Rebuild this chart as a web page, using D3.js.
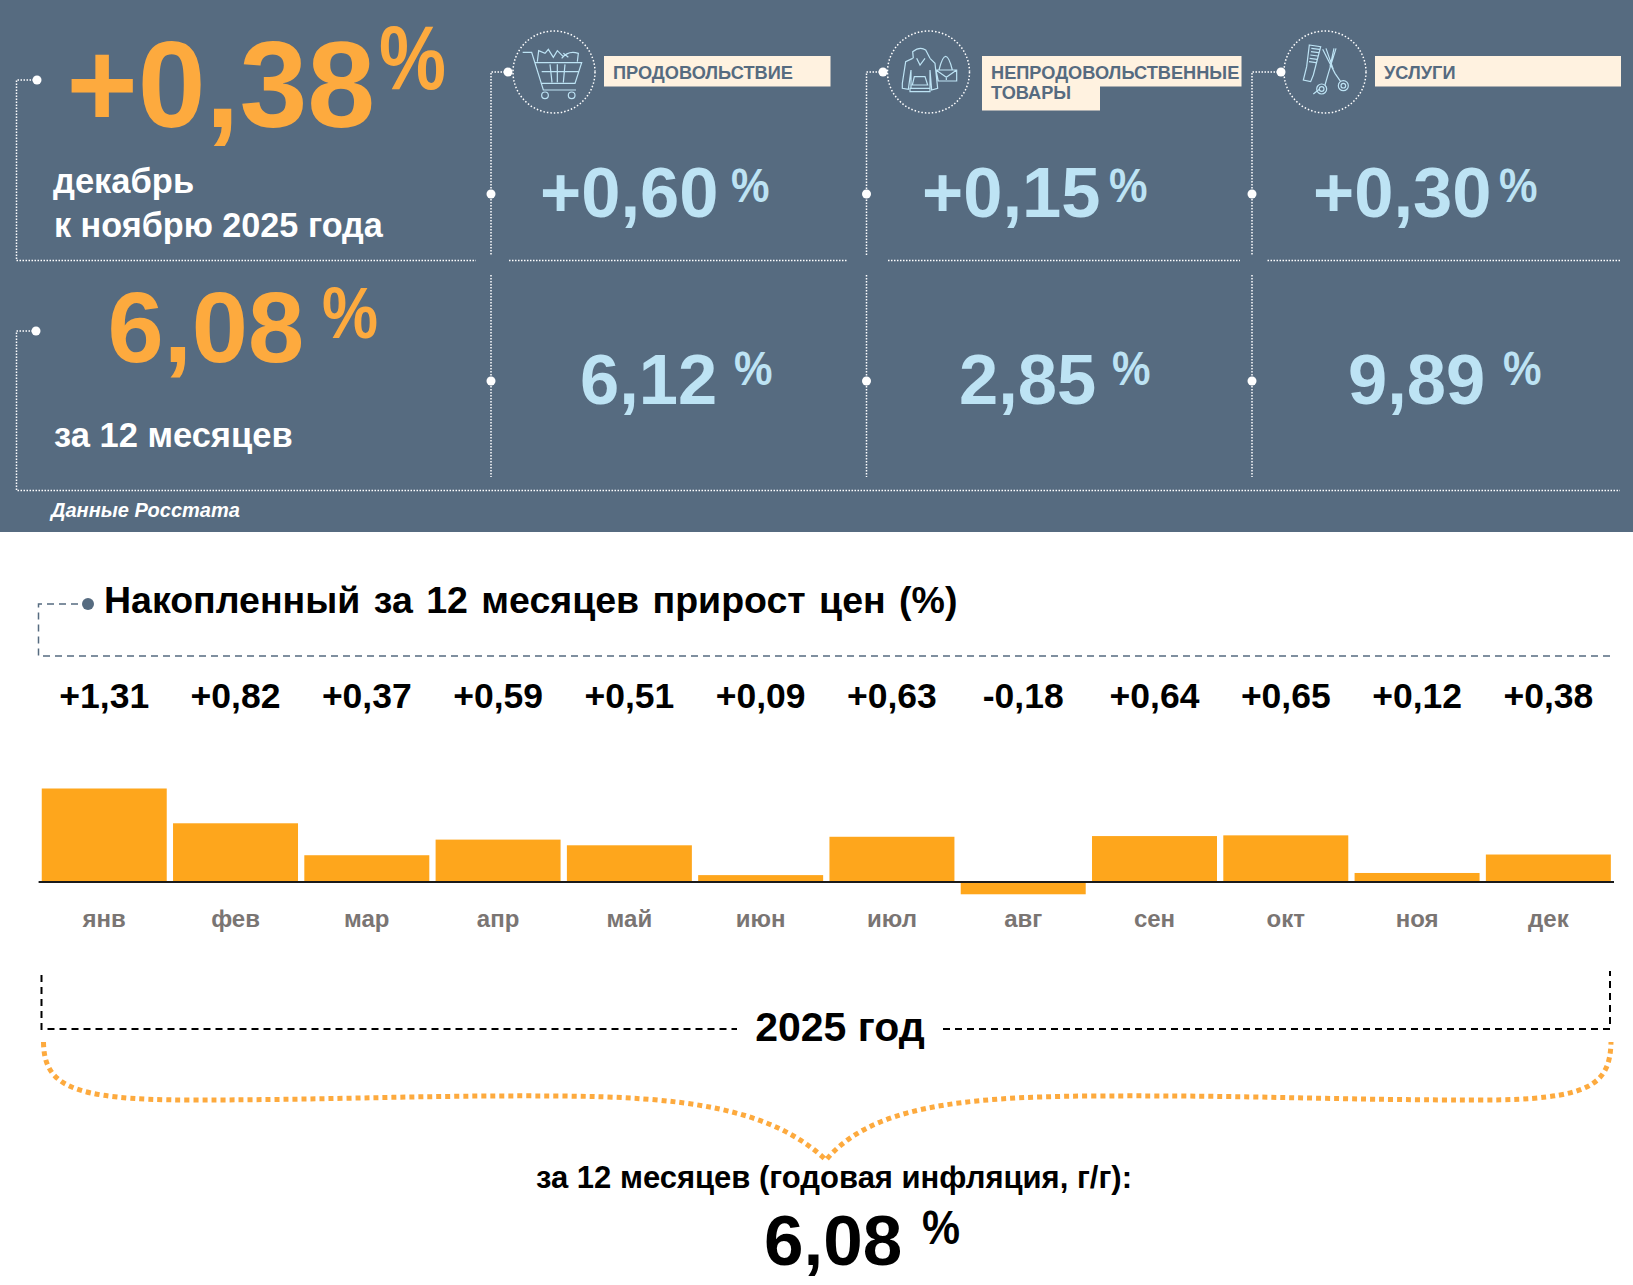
<!DOCTYPE html>
<html>
<head>
<meta charset="utf-8">
<script src="https://cdn.jsdelivr.net/npm/d3@7"></script>
<style>
  html, body { margin: 0; padding: 0; background: #fff; }
  text { font-family: "Liberation Sans", Arial, sans-serif; font-weight: bold; }
</style>
</head>
<body>
<div id="chart"></div>
<script>
// monthly data
const months = ["янв", "фев", "мар", "апр", "май", "июн", "июл", "авг", "сен", "окт", "ноя", "дек"];
const monthValues = [1.31, 0.82, 0.37, 0.59, 0.51, 0.09, 0.63, -0.18, 0.64, 0.65, 0.12, 0.38];

// top panel data
const categories = [["ПРОДОВОЛЬСТВИЕ"], ["НЕПРОДОВОЛЬСТВЕННЫЕ", "ТОВАРЫ"], ["УСЛУГИ"]];
const categoryMonth = [0.60, 0.15, 0.30];
const categoryYear = [6.12, 2.85, 9.89];
const totalMonth = 0.38;
const totalYear = 6.08;

const width = 1633, height = 1285;
const slate = "#566b80", orange = "#fdaa3e", blue = "#bde3f4", cream = "#fff2e0";

const fmt = d => d.toFixed(2).replace(".", ",");
const fmtSigned = d => (d > 0 ? "+" : "") + fmt(d);

const svg = d3.select("#chart").append("svg")
  .attr("width", width)
  .attr("height", height)
  .attr("viewBox", `0 0 ${width} ${height}`)
  .style("display", "block");

svg.append("rect").attr("width", width).attr("height", 532).attr("fill", slate);

// small helper, x is left edge and y is the baseline
function label(txt, x, y, size, fill, anchor) {
  return svg.append("text")
    .attr("x", x).attr("y", y)
    .attr("font-size", size)
    .attr("fill", fill)
    .attr("text-anchor", anchor || "start")
    .text(txt);
}

// the percent signs in the picture are narrower than the font's
const percent = (x, y, size, w, fill) => label("%", x, y, size, fill)
  .attr("textLength", w).attr("lengthAdjust", "spacingAndGlyphs");

const dotted = d => svg.append("path").attr("d", d).attr("fill", "none")
  .attr("stroke", "#fff").attr("stroke-width", 1.5).attr("stroke-dasharray", "1.5 1.5");
const dot = (x, y) => svg.append("circle").attr("cx", x).attr("cy", y).attr("r", 4.5).attr("fill", "#fff");

// frames of the panel
dotted("M37,80H16.5V260.5H476");
dotted("M36,331H16.5V490.5H1620");
dot(37, 80);
dot(36, 331);

const colX = [491, 866.5, 1252];
const iconX = [554, 928.5, 1325];
const dotX = [508, 883, 1281];
const hLine = [[509, 847], [888, 1240], [1267.5, 1620]];
const rectX = [[604, 830.5], [982, 1241.5], [1375, 1621]];
const monthX = [540, 922, 1313];
const monthPct = [731, 1109, 1499];
const yearX = [580, 959, 1348];
const yearPct = [734, 1112, 1503];

categories.forEach((lines, i) => {
  dotted(`M${dotX[i]},72H${colX[i]}V256`);
  dotted(`M${colX[i]},275V477`);
  dotted(`M${hLine[i][0]},260.5H${hLine[i][1]}`);
  dot(dotX[i], 72);
  dot(colX[i], 194);
  dot(colX[i], 381);

  svg.append("circle").attr("cx", iconX[i]).attr("cy", 72).attr("r", 41)
    .attr("fill", "none").attr("stroke", "#fff").attr("stroke-width", 1.5).attr("stroke-dasharray", "1.5 2");

  svg.append("rect").attr("x", rectX[i][0]).attr("y", 56)
    .attr("width", rectX[i][1] - rectX[i][0]).attr("height", 30.5).attr("fill", cream);
  if (lines.length > 1) {
    svg.append("rect").attr("x", rectX[i][0]).attr("y", 86)
      .attr("width", 118).attr("height", 24.5).attr("fill", cream);
  }
  lines.forEach((t, j) => label(t, rectX[i][0] + 9, 78.5 + j * 20, 18.2, slate));

  label("+" + fmt(categoryMonth[i]), monthX[i], 216.5, 70.5, blue);
  percent(monthPct[i], 202, 48, 38.5, blue);
  label(fmt(categoryYear[i]), yearX[i], 404, 70.5, blue);
  percent(yearPct[i], 385, 48, 38.5, blue);
});

// icons, drawn on a 3x grid and scaled down
const iconPaths = [
  "M68,97H95L130,210H228M105,128H245L225,190H122M125,155H235M150,133L156,187M172,133V187M195,133L190,187M112,125L116,92L135,100L145,88L160,112L172,92L190,110M185,115Q205,90 235,100L232,125M190,100L205,112",
  "M115,115L113,95Q135,78 152,90L165,115M125,115L135,135L150,115M113,115L92,125L82,190V205L100,208L108,150M165,115L180,130L188,205L170,210L165,150M105,205H165V215H105ZM108,150V205M165,150V205M118,170H150L158,195H112ZM183,150H245V183H190ZM183,150L214,172L245,150M192,150Q212,68 232,150M214,172V180",
  "M118,75L152,80L130,165L122,185L100,180L110,140ZM124,85L148,88M123,95L146,98M121,105L143,108M119,115L141,118M117,125L138,128M158,88L195,160L212,185M198,85L175,160L165,195M168,85L190,148M192,85L180,140M130,222L148,208"
];
const iconOffset = [[500, 20], [875, 20], [1270, 20]];
const iconCircles = [
  [[135, 226, 10], [215, 226, 10]],
  [],
  [[155, 207, 15], [220, 197, 15], [155, 207, 7], [220, 197, 7]]
];
iconPaths.forEach((d, i) => {
  const g = svg.append("g").attr("transform", `translate(${iconOffset[i]}) scale(${1 / 3})`)
    .attr("fill", "none").attr("stroke", blue).attr("stroke-width", 3.6);
  g.append("path").attr("d", d);
  iconCircles[i].forEach(c => g.append("circle").attr("cx", c[0]).attr("cy", c[1]).attr("r", c[2]));
});

// headline numbers
label("+" + fmt(totalMonth), 66.5, 127, 122, orange);
percent(379, 89, 90, 67, orange);
label("декабрь", 53, 192.5, 34.5, "#fff");
label("к ноябрю 2025 года", 54, 237, 34.2, "#fff");
label(fmt(totalYear), 107.5, 362, 101, orange);
percent(322, 338, 72, 56, orange);
label("за 12 месяцев", 54, 446.5, 34.5, "#fff");
label("Данные Росстата", 51, 516.5, 20, "#fff").attr("font-style", "italic");

// bar chart section
svg.append("path").attr("d", "M78,604H38.5V656H1614").attr("fill", "none")
  .attr("stroke", slate).attr("stroke-width", 1.5).attr("stroke-dasharray", "7 5");
svg.append("circle").attr("cx", 88).attr("cy", 604).attr("r", 6).attr("fill", slate);
label("Накопленный за 12 месяцев прирост цен (%)", 104, 612.5, 37.5, "#000").attr("word-spacing", 3);

const x = d3.scaleBand().domain(months).range([38.6, 1614]).paddingInner(0.048).paddingOuter(0.024);
const y = d3.scaleLinear().domain([0, 1.31]).range([881.5, 788.5]);

svg.append("g").selectAll("rect").data(months).join("rect")
  .attr("x", d => x(d))
  .attr("width", x.bandwidth())
  .attr("y", (d, i) => Math.min(y(monthValues[i]), y(0)))
  .attr("height", (d, i) => Math.abs(y(monthValues[i]) - y(0)))
  .attr("fill", "#fea61c");

svg.append("g").selectAll("text").data(months).join("text")
  .attr("x", d => x(d) + x.bandwidth() / 2)
  .attr("y", 708)
  .attr("text-anchor", "middle")
  .attr("font-size", 35.5)
  .attr("fill", "#000")
  .text((d, i) => fmtSigned(monthValues[i]));

const xAxis = svg.append("g")
  .attr("transform", `translate(0,${y(0)})`)
  .call(d3.axisBottom(x).tickSize(0).tickPadding(28));
xAxis.select(".domain").attr("stroke", "#1a1a1a").attr("stroke-width", 2).attr("d", "M38.6,0.5H1614");
xAxis.selectAll("text").attr("font-size", 24).attr("font-family", null).attr("fill", "#7a7573");

// year bracket
svg.append("path").attr("d", "M41.5,975V1029H737M943,1029H1610V971").attr("fill", "none")
  .attr("stroke", "#000").attr("stroke-width", 2).attr("stroke-dasharray", "7 5");
label("2025 год", 840, 1041, 41, "#000", "middle");

// orange curly brace
svg.append("path")
  .attr("d", "M43.5,1042C44,1085 70,1100 190,1100C340,1100 420,1095 560,1096C680,1097 770,1107 826,1160C870,1107 960,1097 1090,1096C1260,1095 1320,1100 1480,1100C1590,1100 1610,1085 1611,1042")
  .attr("fill", "none").attr("stroke", orange).attr("stroke-width", 5).attr("stroke-dasharray", "5 4");

label("за 12 месяцев (годовая инфляция, г/г):", 834, 1188, 31, "#000", "middle");
label(fmt(totalYear), 764, 1265, 71, "#000");
percent(922, 1244, 48, 38, "#000");
</script>
</body>
</html>
